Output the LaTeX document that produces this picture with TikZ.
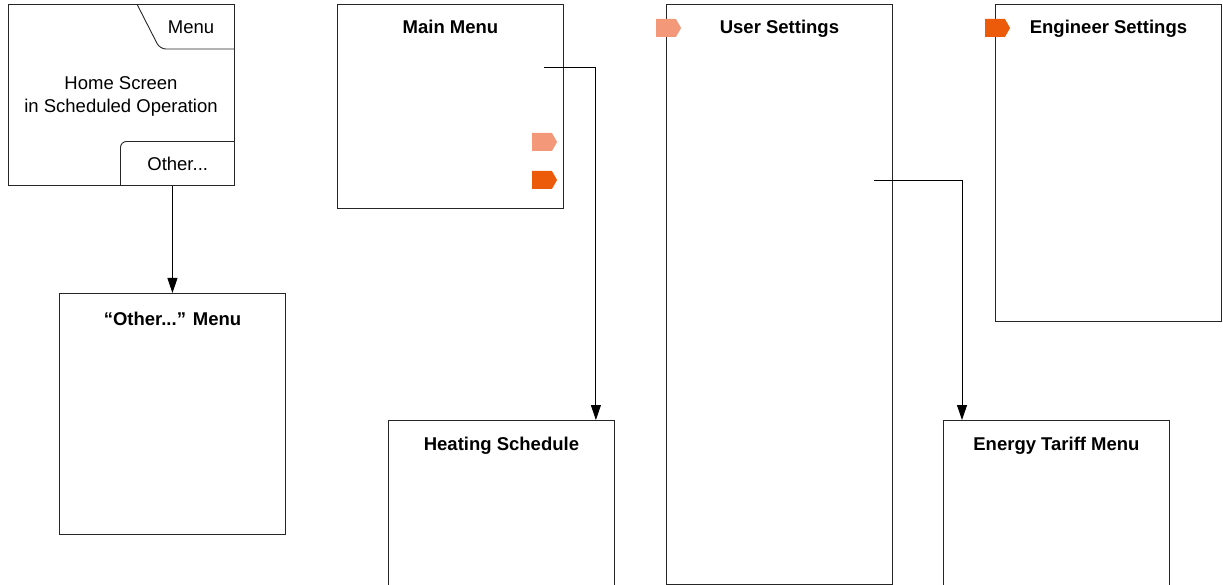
\documentclass[tikz,border=0pt]{standalone}
\usepackage{fontspec}
\setmainfont{Liberation Sans}
\usepackage{tikz}
\usetikzlibrary{shapes.symbols,arrows.meta,calc}
\definecolor{tagLight}{RGB}{243,152,120}
\definecolor{tagDark}{RGB}{236,91,10}
\newcommand{\screenfont}{\fontsize{18.5}{23}\selectfont}
\tikzstyle{screen} = [rectangle, anchor=north west, minimum width=226pt, draw=black!85, line width=0.9pt, inner sep=0pt]
\tikzstyle{title} = [anchor=base, font=\screenfont\bfseries, inner sep=0pt]
\tikzstyle{tag} = [signal, signal to=east, signal pointer angle=120, minimum width=25pt, minimum height=18pt, inner sep=0pt]
\tikzstyle{tab} = [draw=black!85, line width=0.9pt, rounded corners=6pt]
\tikzstyle{arrow} = [line width=0.9pt, -{Triangle[length=15pt,width=10pt]}]

\begin{document}
\begin{tikzpicture}[x=1pt, y=-1pt, every node/.style={font=\screenfont}]
\clip (0,0) rectangle (1223,585);
% home screen with its two tabs
\node (Home) [screen, minimum height=181pt] at (8,4) {};
\node (HomeText) [align=center] at (121,96) {Home Screen\\in Scheduled Operation};
\node (MenuTab) [anchor=base, inner sep=0pt] at (191,34) {Menu};
\draw[tab] ($(Home.north east)+(-98,0)$) -- ($(Home.north east)+(-75,45)$) -- ($(Home.north east)+(0,45)$);
\node (OtherTab) [anchor=south east, minimum width=114pt, minimum height=44pt, inner sep=0pt] at (Home.south east) {Other...};
\draw[tab] (OtherTab.south west) |- (OtherTab.north east);

% menus
\node (OtherMenu) [screen, minimum height=241pt] at (59,293) {};
\node (OtherTitle) [title] at ([yshift=-32pt]OtherMenu.north) {``Other...'' Menu};

\node (Main) [screen, minimum height=204pt] at (337,4) {};
\node (MainTitle) [title] at ([yshift=-30pt]Main.north) {Main Menu};
\node (MainTagUser) [tag, fill=tagLight] at (542,142) {};
\node (MainTagEng) [tag, fill=tagDark] at (542,180) {};
\coordinate (MainLink) at (544,67);

\node (Heating) [screen, minimum height=200pt] at (388,420) {};
\node (HeatingTitle) [title] at ([yshift=-30pt]Heating.north) {Heating Schedule};

\node (User) [screen, minimum height=580pt] at (666,4) {};
\node (UserTitle) [title] at ([yshift=-30pt]User.north) {User Settings};
\node (UserTag) [tag, fill=tagLight] at (666,28) {};
\coordinate (UserLink) at (874,180);

\node (Engineer) [screen, minimum height=317pt] at (995,4) {};
\node (EngineerTitle) [title] at ([yshift=-30pt]Engineer.north) {Engineer Settings};
\node (EngineerTag) [tag, fill=tagDark] at (995,28) {};

\node (Energy) [screen, minimum height=200pt] at (943,420) {};
\node (EnergyTitle) [title] at ([yshift=-30pt]Energy.north) {Energy Tariff Menu};

% links
\draw[arrow] (OtherTab.south -| OtherMenu.north) -- (OtherMenu.north);
\draw[arrow] (MainLink) -| ([xshift=-19pt]Heating.north east);
\draw[arrow] (UserLink) -| ([xshift=19pt]Energy.north west);
\end{tikzpicture}
\end{document}
